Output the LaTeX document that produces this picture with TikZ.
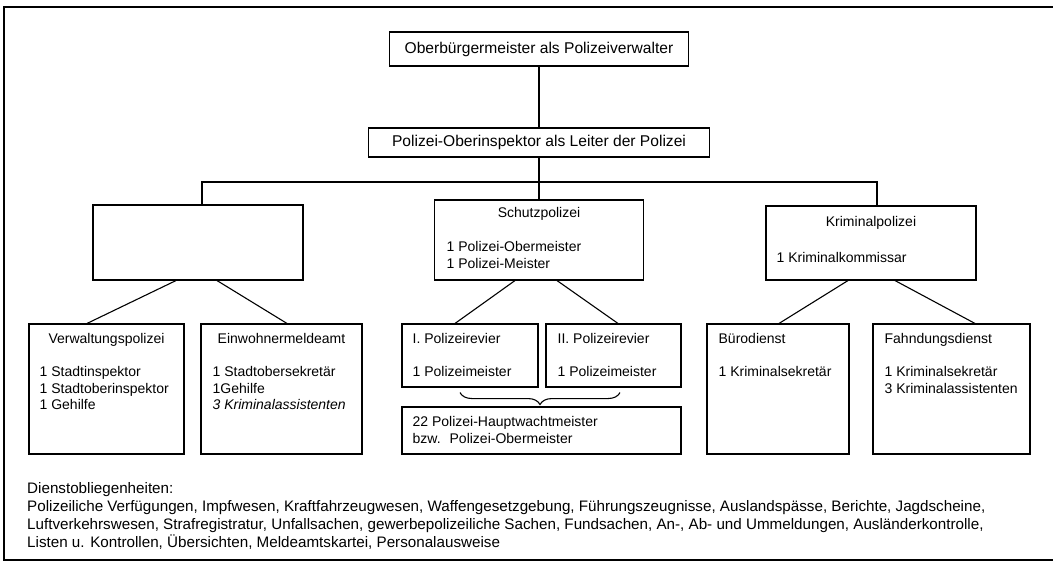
\documentclass[tikz,border=0pt]{standalone}
\usepackage{fontspec}
\setmainfont{Liberation Sans}
\usetikzlibrary{decorations.pathreplacing}

\tikzset{
    unit/.style={draw, line width=1.1pt, inner sep=0pt},
    head/.style={unit, font=\fontsize{15.6}{18}\selectfont},
    txt/.style={inner sep=0pt, align=left, font=\fontsize{14}{16.3}\selectfont},
    link/.style={line width=1.1pt},
}

\begin{document}
\begin{tikzpicture}[x=1pt, y=-1pt]
    \useasboundingbox (0,0) rectangle (1053,563);
    % Rahmen
    \draw[line width=1.6pt] (1060,7) -- (4,7) -- (4,560) -- (1060,560);

    % Leitung
    \node[head, minimum width=299, minimum height=34] (ober) at (539,49) {Oberbürgermeister als Polizeiverwalter};
    \node[head, minimum width=341, minimum height=29] (leiter) at (539,142.5) {Polizei-Oberinspektor als Leiter der Polizei};

    % Abteilungen
    \node[unit, minimum width=210, minimum height=75] (leer) at (198,242.5) {};
    \node[unit, minimum width=209, minimum height=80] (schutz) at (539,240) {};
    \node[unit, minimum width=210, minimum height=74] (krim) at (871,243) {};
    \node[txt, anchor=base] (schutz-kopf) at ([yshift=-18pt]schutz.north) {Schutzpolizei};
    \node[txt, anchor=north west] (schutz-liste) at ([shift={(12.5pt,-42pt)}]schutz.north west) {1 Polizei-Obermeister\\1 Polizei-Meister};
    \node[txt, anchor=base] (krim-kopf) at ([yshift=-21pt]krim.north) {Kriminalpolizei};
    \node[txt, anchor=north west] (krim-liste) at ([shift={(11pt,-47pt)}]krim.north west) {1 Kriminalkommissar};

    % Dienststellen
    \node[unit, minimum width=155, minimum height=130] (verw) at (106.5,389) {};
    \node[unit, minimum width=161, minimum height=130] (einw) at (281.5,389) {};
    \node[unit, minimum width=136, minimum height=63] (rev1) at (470,355.5) {};
    \node[unit, minimum width=135, minimum height=63] (rev2) at (613.5,355.5) {};
    \node[unit, minimum width=279, minimum height=47] (wache) at (541.5,430.5) {};
    \node[unit, minimum width=142, minimum height=130] (buero) at (778,389) {};
    \node[unit, minimum width=157, minimum height=130] (fahnd) at (951.5,389) {};

    \node[txt, anchor=base] (verw-kopf) at ([yshift=-20pt]verw.north) {Verwaltungspolizei};
    \node[txt, anchor=north west] (verw-liste) at ([shift={(11pt,-43pt)}]verw.north west) {1 Stadtinspektor\\1 Stadtoberinspektor\\1 Gehilfe};
    \node[txt, anchor=base] (einw-kopf) at ([yshift=-20pt]einw.north) {Einwohnermeldeamt};
    \node[txt, anchor=north west] (einw-liste) at ([shift={(12pt,-43pt)}]einw.north west) {1 Stadtobersekretär\\1Gehilfe\\\textit{3 Kriminalassistenten}};
    \node[txt, anchor=north west] (rev1-text) at ([shift={(11pt,-10pt)}]rev1.north west) {I. Polizeirevier\\[16.7pt]1 Polizeimeister};
    \node[txt, anchor=north west] (rev2-text) at ([shift={(12pt,-10pt)}]rev2.north west) {II. Polizeirevier\\[16.7pt]1 Polizeimeister};
    \node[txt, anchor=north west] (wache-text) at ([shift={(11pt,-10pt)}]wache.north west) {22 Polizei-Hauptwachtmeister\\bzw.\hspace{9pt}Polizei-Obermeister};
    \node[txt, anchor=north west] (buero-text) at ([shift={(12pt,-10pt)}]buero.north west) {Bürodienst\\[16.7pt]1 Kriminalsekretär};
    \node[txt, anchor=north west] (fahnd-text) at ([shift={(12pt,-10pt)}]fahnd.north west) {Fahndungsdienst\\[16.7pt]1 Kriminalsekretär\\3 Kriminalassistenten};

    % Verbindungen
    \coordinate (split) at (539,182);
    \draw[link] (ober.south) -- (leiter.north);
    \draw[link] (leiter.south) -- (schutz.north);
    \draw[link] ([xshift=4pt]leer.north) |- (split) -| ([xshift=6pt]krim.north);
    \draw[link] ([xshift=-22pt]leer.south) -- ([xshift=-19.5pt]verw.north);
    \draw[link] ([xshift=19pt]leer.south) -- ([xshift=5.5pt]einw.north);
    \draw[link] ([xshift=-24pt]schutz.south) -- ([xshift=-15pt]rev1.north);
    \draw[link] ([xshift=18pt]schutz.south) -- ([xshift=4.5pt]rev2.north);
    \draw[link] ([xshift=-23pt]krim.south) -- ([xshift=1pt]buero.north);
    \draw[link] ([xshift=24pt]krim.south) -- ([xshift=23.5pt]fahnd.north);
    \draw[link, decorate, decoration={brace, amplitude=12pt}] ([shift={(6.5pt,-5pt)}]rev2.south) -- ([shift={(-10pt,-5pt)}]rev1.south);

    % Dienstobliegenheiten
    \node[txt, anchor=north west, font=\fontsize{15.2}{18}\selectfont] (pflichten) at (27,482.5) {Dienstobliegenheiten:\\
        Polizeiliche Verfügungen, Impfwesen, Kraftfahrzeugwesen, Waffengesetzgebung, Führungszeugnisse, Auslandspässe, Berichte, Jagdscheine,\\
        Luftverkehrswesen, Strafregistratur, Unfallsachen, gewerbepolizeiliche Sachen, Fundsachen, An-, Ab- und Ummeldungen, Ausländerkontrolle,\\
        Listen u. Kontrollen, Übersichten, Meldeamtskartei, Personalausweise};
\end{tikzpicture}
\end{document}
